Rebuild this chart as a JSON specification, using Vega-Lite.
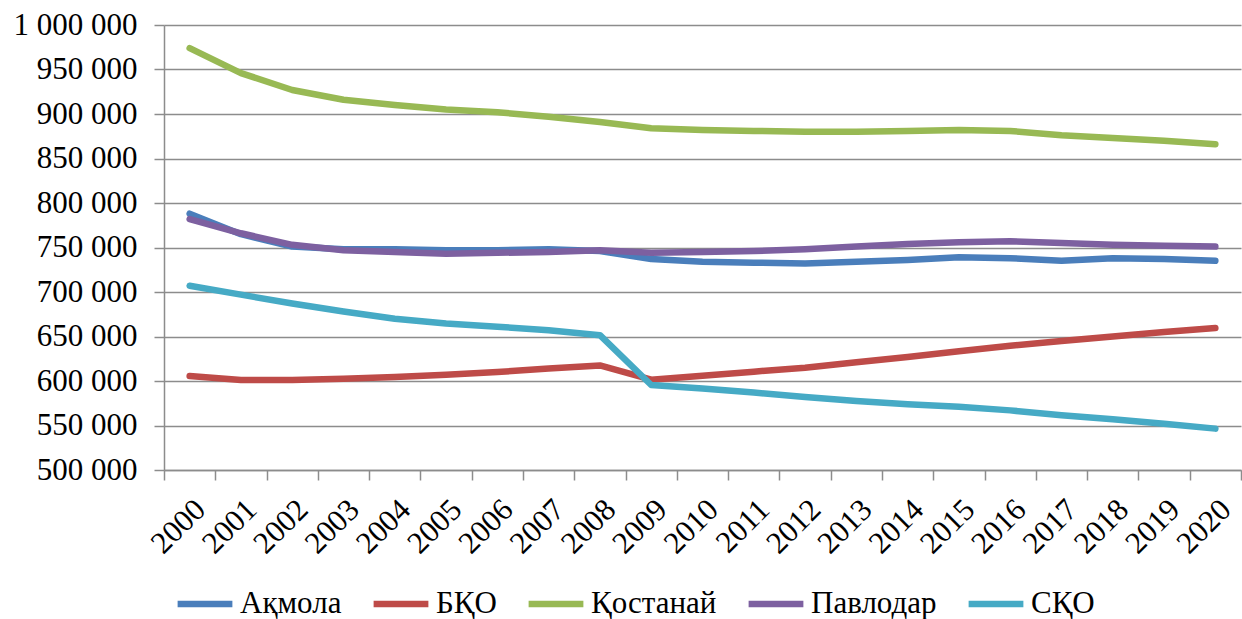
{
  "$schema": "https://vega.github.io/schema/vega-lite/v6.json",
  "width": 1077,
  "height": 445,
  "autosize": {"type": "none"},
  "padding": {"left": 164, "top": 25, "right": 1, "bottom": 149},
  "background": "white",
  "config": {
    "locale": {"number": {"decimal": ",", "thousands": " ", "grouping": [3], "currency": ["", ""]}},
    "view": {"stroke": null},
    "font": "Times New Roman, Liberation Serif, DejaVu Serif, serif"
  },
  "data": {"values": [
    {"year": "2000", "region": "Ақмола", "value": 788000},
    {"year": "2001", "region": "Ақмола", "value": 765000},
    {"year": "2002", "region": "Ақмола", "value": 751000},
    {"year": "2003", "region": "Ақмола", "value": 748000},
    {"year": "2004", "region": "Ақмола", "value": 748000},
    {"year": "2005", "region": "Ақмола", "value": 747000},
    {"year": "2006", "region": "Ақмола", "value": 747000},
    {"year": "2007", "region": "Ақмола", "value": 748000},
    {"year": "2008", "region": "Ақмола", "value": 746000},
    {"year": "2009", "region": "Ақмола", "value": 737000},
    {"year": "2010", "region": "Ақмола", "value": 734000},
    {"year": "2011", "region": "Ақмола", "value": 733000},
    {"year": "2012", "region": "Ақмола", "value": 732000},
    {"year": "2013", "region": "Ақмола", "value": 734000},
    {"year": "2014", "region": "Ақмола", "value": 736000},
    {"year": "2015", "region": "Ақмола", "value": 739000},
    {"year": "2016", "region": "Ақмола", "value": 738000},
    {"year": "2017", "region": "Ақмола", "value": 735000},
    {"year": "2018", "region": "Ақмола", "value": 738000},
    {"year": "2019", "region": "Ақмола", "value": 737000},
    {"year": "2020", "region": "Ақмола", "value": 735000},
    {"year": "2000", "region": "БҚО", "value": 605500},
    {"year": "2001", "region": "БҚО", "value": 601000},
    {"year": "2002", "region": "БҚО", "value": 601000},
    {"year": "2003", "region": "БҚО", "value": 602500},
    {"year": "2004", "region": "БҚО", "value": 604500},
    {"year": "2005", "region": "БҚО", "value": 607000},
    {"year": "2006", "region": "БҚО", "value": 610000},
    {"year": "2007", "region": "БҚО", "value": 614000},
    {"year": "2008", "region": "БҚО", "value": 617500},
    {"year": "2009", "region": "БҚО", "value": 601500},
    {"year": "2010", "region": "БҚО", "value": 606000},
    {"year": "2011", "region": "БҚО", "value": 610500},
    {"year": "2012", "region": "БҚО", "value": 615000},
    {"year": "2013", "region": "БҚО", "value": 621000},
    {"year": "2014", "region": "БҚО", "value": 627000},
    {"year": "2015", "region": "БҚО", "value": 633500},
    {"year": "2016", "region": "БҚО", "value": 639500},
    {"year": "2017", "region": "БҚО", "value": 645000},
    {"year": "2018", "region": "БҚО", "value": 650000},
    {"year": "2019", "region": "БҚО", "value": 655000},
    {"year": "2020", "region": "БҚО", "value": 659500},
    {"year": "2000", "region": "Қостанай", "value": 974000},
    {"year": "2001", "region": "Қостанай", "value": 946000},
    {"year": "2002", "region": "Қостанай", "value": 927000},
    {"year": "2003", "region": "Қостанай", "value": 916000},
    {"year": "2004", "region": "Қостанай", "value": 910000},
    {"year": "2005", "region": "Қостанай", "value": 905000},
    {"year": "2006", "region": "Қостанай", "value": 902000},
    {"year": "2007", "region": "Қостанай", "value": 897000},
    {"year": "2008", "region": "Қостанай", "value": 891000},
    {"year": "2009", "region": "Қостанай", "value": 884000},
    {"year": "2010", "region": "Қостанай", "value": 882000},
    {"year": "2011", "region": "Қостанай", "value": 881000},
    {"year": "2012", "region": "Қостанай", "value": 880000},
    {"year": "2013", "region": "Қостанай", "value": 880000},
    {"year": "2014", "region": "Қостанай", "value": 881000},
    {"year": "2015", "region": "Қостанай", "value": 882000},
    {"year": "2016", "region": "Қостанай", "value": 881000},
    {"year": "2017", "region": "Қостанай", "value": 876000},
    {"year": "2018", "region": "Қостанай", "value": 873000},
    {"year": "2019", "region": "Қостанай", "value": 870000},
    {"year": "2020", "region": "Қостанай", "value": 866000},
    {"year": "2000", "region": "Павлодар", "value": 782000},
    {"year": "2001", "region": "Павлодар", "value": 766000},
    {"year": "2002", "region": "Павлодар", "value": 753000},
    {"year": "2003", "region": "Павлодар", "value": 747000},
    {"year": "2004", "region": "Павлодар", "value": 745000},
    {"year": "2005", "region": "Павлодар", "value": 743000},
    {"year": "2006", "region": "Павлодар", "value": 744000},
    {"year": "2007", "region": "Павлодар", "value": 745000},
    {"year": "2008", "region": "Павлодар", "value": 747000},
    {"year": "2009", "region": "Павлодар", "value": 744000},
    {"year": "2010", "region": "Павлодар", "value": 745000},
    {"year": "2011", "region": "Павлодар", "value": 746000},
    {"year": "2012", "region": "Павлодар", "value": 748000},
    {"year": "2013", "region": "Павлодар", "value": 751000},
    {"year": "2014", "region": "Павлодар", "value": 754000},
    {"year": "2015", "region": "Павлодар", "value": 756000},
    {"year": "2016", "region": "Павлодар", "value": 757000},
    {"year": "2017", "region": "Павлодар", "value": 755000},
    {"year": "2018", "region": "Павлодар", "value": 753000},
    {"year": "2019", "region": "Павлодар", "value": 752000},
    {"year": "2020", "region": "Павлодар", "value": 751000},
    {"year": "2000", "region": "СҚО", "value": 707000},
    {"year": "2001", "region": "СҚО", "value": 697000},
    {"year": "2002", "region": "СҚО", "value": 687000},
    {"year": "2003", "region": "СҚО", "value": 678000},
    {"year": "2004", "region": "СҚО", "value": 670000},
    {"year": "2005", "region": "СҚО", "value": 664500},
    {"year": "2006", "region": "СҚО", "value": 661000},
    {"year": "2007", "region": "СҚО", "value": 657000},
    {"year": "2008", "region": "СҚО", "value": 651500},
    {"year": "2009", "region": "СҚО", "value": 595500},
    {"year": "2010", "region": "СҚО", "value": 591500},
    {"year": "2011", "region": "СҚО", "value": 587000},
    {"year": "2012", "region": "СҚО", "value": 582000},
    {"year": "2013", "region": "СҚО", "value": 577500},
    {"year": "2014", "region": "СҚО", "value": 574000},
    {"year": "2015", "region": "СҚО", "value": 571000},
    {"year": "2016", "region": "СҚО", "value": 567000},
    {"year": "2017", "region": "СҚО", "value": 561500},
    {"year": "2018", "region": "СҚО", "value": 557000},
    {"year": "2019", "region": "СҚО", "value": 552000},
    {"year": "2020", "region": "СҚО", "value": 546500}
  ]},
  "mark": {"type": "line", "strokeWidth": 6.5, "strokeCap": "round", "strokeJoin": "round"},
  "encoding": {
    "x": {
      "field": "year", "type": "ordinal", "title": null,
      "scale": {"paddingInner": 0, "paddingOuter": 0},
      "axis": {
        "tickBand": "extent", "labelAngle": -45, "labelAlign": "right", "labelBaseline": "top",
        "labelFontSize": 31, "labelColor": "black",
        "labelFont": "Times New Roman, Liberation Serif, DejaVu Serif, serif", "tickSize": 10, "tickColor": "#8c8c8c", "tickWidth": 1.5,
        "domainColor": "#8c8c8c", "domainWidth": 1.5, "labelPadding": 14, "grid": false
      }
    },
    "y": {
      "field": "value", "type": "quantitative", "title": null,
      "scale": {"domain": [500000, 1000000], "nice": false, "zero": false},
      "axis": {
        "values": [500000, 550000, 600000, 650000, 700000, 750000, 800000, 850000, 900000, 950000, 1000000],
        "format": ",d", "labelFontSize": 31, "labelColor": "black", "labelFont": "Times New Roman, Liberation Serif, DejaVu Serif, serif",
        "tickSize": 10, "tickColor": "#8c8c8c", "tickWidth": 1.5, "labelPadding": 17,
        "domainColor": "#8c8c8c", "domainWidth": 1.5,
        "grid": true, "gridColor": "#8c8c8c", "gridWidth": 1.5
      }
    },
    "color": {
      "field": "region", "type": "nominal", "title": null,
      "scale": {
        "domain": ["Ақмола", "БҚО", "Қостанай", "Павлодар", "СҚО"],
        "range": ["#4A7EBB", "#BE4B48", "#98B954", "#7D60A0", "#46AAC5"]
      },
      "legend": {
        "orient": "none", "legendX": 10, "legendY": 548, "direction": "horizontal",
        "symbolType": "stroke", "symbolSize": 3000, "symbolStrokeWidth": 6.5,
        "labelFontSize": 31, "labelFont": "Times New Roman, Liberation Serif, DejaVu Serif, serif", "labelColor": "black",
        "labelOffset": 4, "columnPadding": 18, "symbolOffset": 0
      }
    }
  }
}
